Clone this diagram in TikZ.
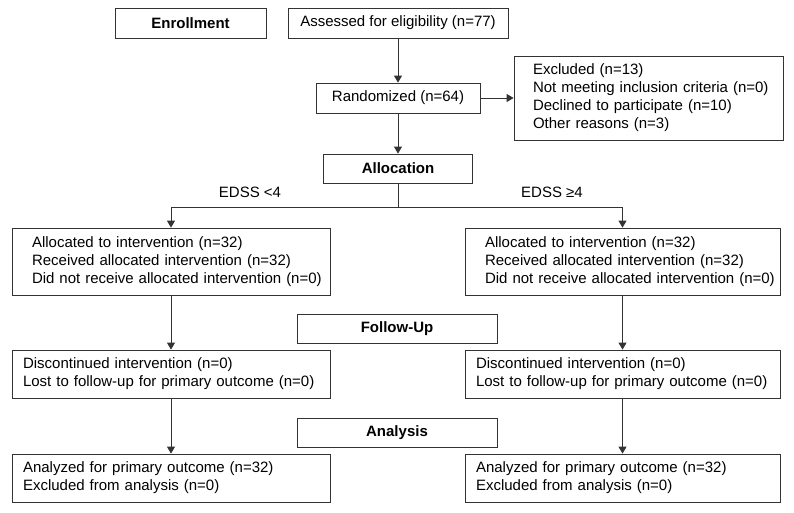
\documentclass[tikz,border=0pt]{standalone}
\usepackage{fontspec}
\setmainfont{Liberation Sans}
\usetikzlibrary{arrows.meta}
\newcommand{\boxlines}[1]{\begin{tabular}{@{}l@{}}#1\end{tabular}}

\begin{document}
\begin{tikzpicture}[x=1pt, y=-1pt, line width=.8pt,
  box/.style={draw=black!80, inner sep=0pt, font=\fontsize{15}{18}\selectfont},
  head/.style={box, font=\fontsize{15}{18}\selectfont\bfseries},
  list/.style 2 args={box, align=left, text width=#1, inner xsep=#2},
  lbl/.style={font=\fontsize{15}{18}\selectfont},
  arr/.style={draw=black!80, -{Triangle[length=7pt, width=8pt]}}]
  \useasboundingbox (0,0) rectangle (794,512);

  \node[head, minimum width=151, minimum height=30] (enrol) at (190.5,23) {Enrollment};
  \node[box, minimum width=220, minimum height=30] (assess) at (398,23) {Assessed for eligibility (n=77)};
  \node[box, minimum width=164, minimum height=30] (rand) at (398,98) {Randomized (n=64)};
  \node[list={231}{19}, minimum height=84] (excl) at (648.5,98)
    {\boxlines{Excluded (n=13)\\Not meeting inclusion criteria (n=0)\\Declined to participate (n=10)\\Other reasons (n=3)}};
  \node[head, minimum width=149, minimum height=29] (alloc) at (398,168.5) {Allocation};
  \coordinate (split) at (398,207);
  \node[lbl] (lowlbl) at (250,192) {EDSS <4};
  \node[lbl] (highlbl) at (552,192) {EDSS ≥4};

  \node[list={278}{20}, minimum height=67] (allocL) at (171,261.5)
    {\boxlines{Allocated to intervention (n=32)\\Received allocated intervention (n=32)\\Did not receive allocated intervention (n=0)}};
  \node[list={275}{20}, minimum height=67] (allocR) at (622.5,261.5)
    {\boxlines{Allocated to intervention (n=32)\\Received allocated intervention (n=32)\\Did not receive allocated intervention (n=0)}};

  \node[head, minimum width=200, minimum height=29] (follow) at (397,328.5) {Follow-Up};
  \node[list={296}{11}, minimum height=48] (discL) at (171,374)
    {\boxlines{Discontinued intervention (n=0)\\Lost to follow-up for primary outcome (n=0)}};
  \node[list={293}{11}, minimum height=48] (discR) at (622.5,374)
    {\boxlines{Discontinued intervention (n=0)\\Lost to follow-up for primary outcome (n=0)}};

  \node[head, minimum width=200, minimum height=29] (analysis) at (397,432.5) {Analysis};
  \node[list={296}{11}, minimum height=48] (anaL) at (171,478)
    {\boxlines{Analyzed for primary outcome (n=32)\\Excluded from analysis (n=0)}};
  \node[list={293}{11}, minimum height=48] (anaR) at (622.5,478)
    {\boxlines{Analyzed for primary outcome (n=32)\\Excluded from analysis (n=0)}};

  \draw[arr] (assess) -- (rand);
  \draw[arr] (rand) -- (excl);
  \draw[arr] (rand) -- (alloc);
  \draw[draw=black!80] (alloc) -- (split);
  \draw[arr] (split) -| (allocL.north);
  \draw[arr] (split) -| (allocR.north);
  \draw[arr] (allocL) -- (discL);
  \draw[arr] (allocR) -- (discR);
  \draw[arr] (discL) -- (anaL);
  \draw[arr] (discR) -- (anaR);
\end{tikzpicture}
\end{document}
